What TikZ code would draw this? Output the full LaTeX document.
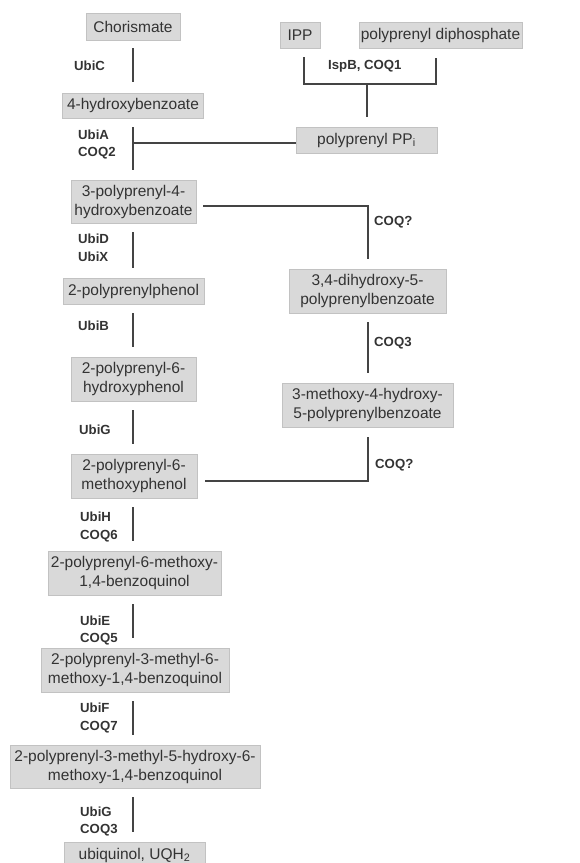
\documentclass[tikz,border=0pt]{standalone}
\usepackage{xcolor}
\usepackage{fontspec}
\setmainfont{Liberation Sans}

\definecolor{boxgray}{HTML}{D9D9D9}
\definecolor{boxedge}{HTML}{C2C2C2}
\definecolor{inkgray}{HTML}{333333}
\definecolor{linegray}{HTML}{444444}

\begin{document}
\begin{tikzpicture}[x=1pt,y=-1pt,
  compound/.style={fill=boxgray, draw=boxedge, line width=0.8pt, text=inkgray,
    font=\fontsize{15.5}{19}\selectfont, align=center, inner sep=0pt},
  enzyme/.style={anchor=west, text=inkgray, font=\fontsize{13.2}{17.5}\selectfont\bfseries,
    align=left, inner sep=0pt},
  link/.style={draw=linegray, line width=2pt, shorten <=9pt, shorten >=10pt}]
  \useasboundingbox (0,0) rectangle (579,863);

  \node[compound, minimum width=94pt, minimum height=27pt] (chor) at (133,26.5) {Chorismate};
  \node[compound, minimum width=40pt, minimum height=26pt] (ipp) at (300,35) {IPP};
  \node[compound, minimum width=163pt, minimum height=26pt] (pdp) at (440.5,35) {polyprenyl diphosphate};
  \node[compound, minimum width=141pt, minimum height=25pt] (hba) at (133,105.5) {4-hydroxybenzoate};
  \node[compound, minimum width=141pt, minimum height=26pt] (ppi) at (366.5,140) {polyprenyl PP\textsubscript{i}};
  \node[compound, minimum width=125pt, minimum height=43pt] (pphb) at (133.5,201.5) {3-polyprenyl-4-\\hydroxybenzoate};
  \node[compound, minimum width=141pt, minimum height=26pt] (ppp) at (133.5,291) {2-polyprenylphenol};
  \node[compound, minimum width=157pt, minimum height=44pt] (dhpb) at (367.5,291) {3,4-dihydroxy-5-\\polyprenylbenzoate};
  \node[compound, minimum width=125pt, minimum height=44pt] (pphp) at (133.5,379) {2-polyprenyl-6-\\hydroxyphenol};
  \node[compound, minimum width=171pt, minimum height=44pt] (mhpb) at (367.5,405) {3-methoxy-4-hydroxy-\\5-polyprenylbenzoate};
  \node[compound, minimum width=126pt, minimum height=44pt] (ppmp) at (134,476) {2-polyprenyl-6-\\methoxyphenol};
  \node[compound, minimum width=173pt, minimum height=44pt] (ppmq) at (134.5,573) {2-polyprenyl-6-methoxy-\\1,4-benzoquinol};
  \node[compound, minimum width=188pt, minimum height=44pt] (pmmq) at (135,670) {2-polyprenyl-3-methyl-6-\\methoxy-1,4-benzoquinol};
  \node[compound, minimum width=250pt, minimum height=43pt] (pmhq) at (135,766.5) {2-polyprenyl-3-methyl-5-hydroxy-6-\\methoxy-1,4-benzoquinol};
  \node[compound, minimum width=141pt, minimum height=26pt] (uqh) at (134.5,855) {ubiquinol, UQH\textsubscript{2}};

  \node[enzyme] (eC) at (74,66) {UbiC};
  \node[enzyme] (eA) at (78,144.5) {UbiA\\COQ2};
  \node[enzyme] (eD) at (78,248) {UbiD\\UbiX};
  \node[enzyme] (eB) at (78,326) {UbiB};
  \node[enzyme] (eG) at (79,430) {UbiG};
  \node[enzyme] (eH) at (80,527) {UbiH\\COQ6};
  \node[enzyme] (eE) at (80,630.5) {UbiE\\COQ5};
  \node[enzyme] (eF) at (80,718) {UbiF\\COQ7};
  \node[enzyme] (eG3) at (80,821.5) {UbiG\\COQ3};
  \node[enzyme] (eIsp) at (328,66) {IspB, COQ1};
  \node[enzyme] (eQa) at (374,222) {COQ?};
  \node[enzyme] (eQ3) at (374,343) {COQ3};
  \node[enzyme] (eQb) at (375,465) {COQ?};

  \coordinate (bar) at (367,84);
  \draw[link] ([xshift=4pt]ipp.south) |- (bar) -| ([xshift=-4.5pt]pdp.south);
  \draw[link, shorten <=0pt] (bar) -- (bar |- ppi.north);

  \draw[link, shorten <=8pt, shorten >=11pt] (chor.south) -- (chor.south |- hba.north);
  \draw[link] (hba.south) -- (hba.south |- pphb.north);
  \draw[link, shorten <=0pt, shorten >=0pt] ([yshift=-3pt]ppi.west) -- ([yshift=-3pt]ppi.west -| hba.south);
  \draw[link] (hba.south |- pphb.south) -- (hba.south |- ppp.north);
  \draw[link] (hba.south |- ppp.south) -- (hba.south |- pphp.north);
  \draw[link] (hba.south |- pphp.south) -- (hba.south |- ppmp.north);
  \draw[link] (hba.south |- ppmp.south) -- (hba.south |- ppmq.north);
  \draw[link] (hba.south |- ppmq.south) -- (hba.south |- pmmq.north);
  \draw[link] (hba.south |- pmmq.south) -- (hba.south |- pmhq.north);
  \draw[link] (hba.south |- pmhq.south) -- (hba.south |- uqh.north);

  \draw[link, shorten <=7pt] ([yshift=-4pt]pphb.east) -| (dhpb.north);
  \draw[link] (dhpb.south) -- (dhpb.south |- mhpb.north);
  \draw[link, shorten <=10pt, shorten >=8pt] (dhpb.south |- mhpb.south) |- ([yshift=-5pt]ppmp.east);
\end{tikzpicture}
\end{document}
